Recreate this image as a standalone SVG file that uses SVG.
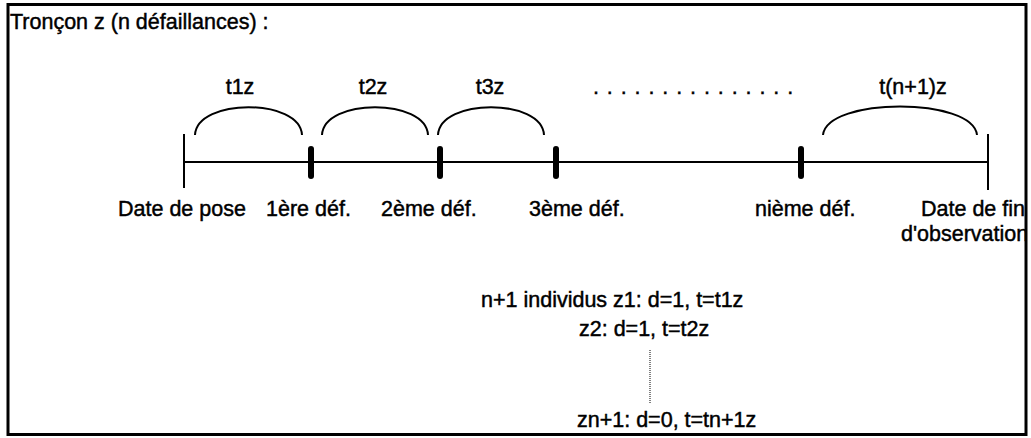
<svg xmlns="http://www.w3.org/2000/svg" width="1031" height="438" viewBox="0 0 1031 438">
<style>
text{font-family:"Liberation Sans",Arial,sans-serif;font-size:21.5px;fill:#000;stroke:#000;stroke-width:0.45}
.arc{fill:none;stroke:#000;stroke-width:2}
.tick{stroke:#000;stroke-width:6;stroke-linecap:round}
.thin{stroke:#000;stroke-width:2}
</style>
<rect x="0" y="0" width="1031" height="438" fill="#fff"/>
<text x="10" y="29">Tronçon z (n défaillances) :</text>
<g id="connectors">
<line class="thin" x1="184" y1="162" x2="989" y2="162"/>
<line class="thin" x1="184" y1="134" x2="184" y2="188"/>
<line class="thin" x1="988" y1="134" x2="988" y2="190"/>
<line class="tick" x1="311" y1="149" x2="311" y2="176"/>
<line class="tick" x1="440" y1="149" x2="440" y2="176"/>
<line class="tick" x1="556" y1="149" x2="556" y2="176"/>
<line class="tick" x1="801" y1="149" x2="801" y2="176"/>
<path class="arc" d="M195,135 C197,98 300,98 302,135"/>
<path class="arc" d="M322,135 C324,98 426,98 428,135"/>
<path class="arc" d="M438,135 C440,98 542,98 544,135"/>
<path class="arc" d="M823,135 C827,97 973,97 977,135"/>
<line x1="650" y1="350" x2="650" y2="403" stroke="#000" stroke-width="1" stroke-dasharray="1,1"/>
</g>
<g id="labels-top">
<text x="240" y="94" text-anchor="middle">t1z</text>
<text x="373" y="94" text-anchor="middle">t2z</text>
<text x="490" y="94" text-anchor="middle">t3z</text>
<text x="593" y="94" letter-spacing="7.9">...............</text>
<text x="913" y="94" text-anchor="middle">t(n+1)z</text>
</g>
<g id="node-pose"><text x="118" y="216">Date de pose</text></g>
<g id="node-d1"><text x="266" y="216">1ère déf.</text></g>
<g id="node-d2"><text x="381" y="216">2ème déf.</text></g>
<g id="node-d3"><text x="529" y="216">3ème déf.</text></g>
<g id="node-dn"><text x="755" y="216">nième déf.</text></g>
<g id="node-fin"><text x="921" y="216">Date de fin</text><text x="901" y="241">d'observation</text></g>
<g id="individus">
<text x="481" y="307">n+1 individus z1: d=1, t=t1z</text>
<text x="579" y="336">z2: d=1, t=t2z</text>
<text x="577" y="427">zn+1: d=0, t=tn+1z</text>
</g>
<rect x="1027" y="0" width="4" height="438" fill="#fff"/>
<rect x="8" y="4.5" width="1018" height="430" fill="none" stroke="#000" stroke-width="3"/>
</svg>
